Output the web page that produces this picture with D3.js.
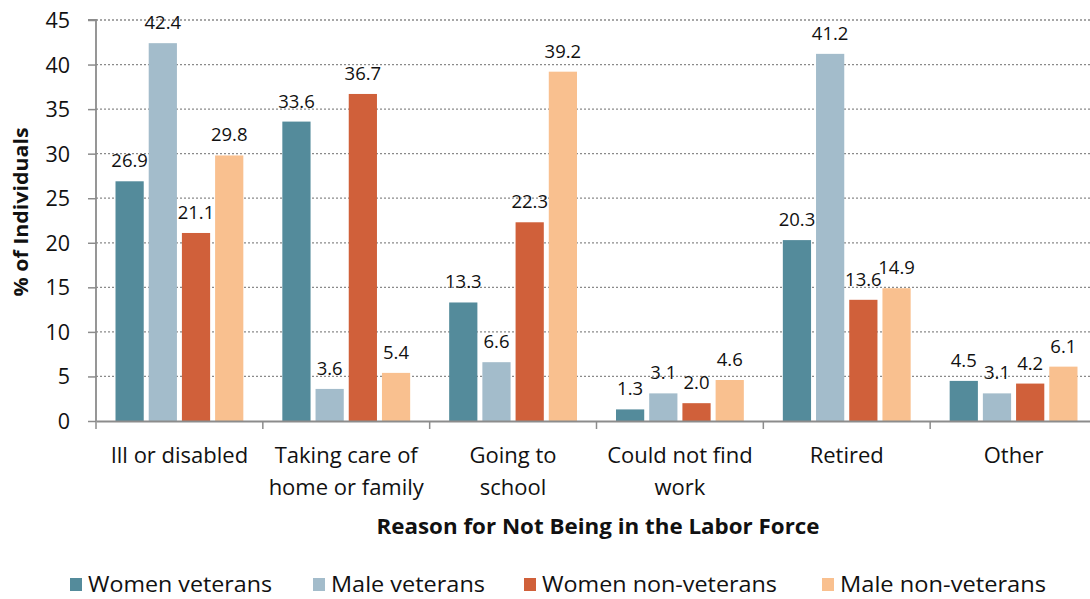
<!DOCTYPE html>
<html>
<head>
<meta charset="utf-8">
<script src="https://cdn.jsdelivr.net/npm/d3@7"></script>
<style>
  html, body { margin: 0; padding: 0; background: #fff; }
  svg { display: block; font-family: "Open Sans", "Noto Sans", sans-serif; }
</style>
</head>
<body>
<svg id="chart" width="1090" height="599"></svg>
<script>
// Reasons for not being in the labor force, % of individuals
const categories = [
  "Ill or disabled",
  "Taking care of\nhome or family",
  "Going to\nschool",
  "Could not find\nwork",
  "Retired",
  "Other"
];
const seriesNames = ["Women veterans", "Male veterans", "Women non-veterans", "Male non-veterans"];
const womenVeterans    = [26.9, 33.6, 13.3, 1.3, 20.3, 4.5];
const maleVeterans     = [42.4, 3.6, 6.6, 3.1, 41.2, 3.1];
const womenNonVeterans = [21.1, 36.7, 22.3, 2.0, 13.6, 4.2];
const maleNonVeterans  = [29.8, 5.4, 39.2, 4.6, 14.9, 6.1];
const yTicks = [0, 5, 10, 15, 20, 25, 30, 35, 40, 45];

const seriesValues = [womenVeterans, maleVeterans, womenNonVeterans, maleNonVeterans];
const colors = ["#548b9b", "#a3bccb", "#d0603a", "#f9c08f"];

const svg = d3.select("#chart");
const plot = { left: 96, right: 1097, top: 20, bottom: 421 };

const x0 = d3.scaleBand().domain(categories).range([plot.left, plot.right]).padding(0);
const x1 = d3.scaleBand().domain(seriesNames)
  .range([19.5, x0.bandwidth() - 19.5]).paddingInner(0.15).paddingOuter(0);
const y = d3.scaleLinear().domain([0, 45]).range([plot.bottom, plot.top]);

// dotted horizontal gridlines
svg.append("g")
  .selectAll("line")
  .data(yTicks.filter(t => t > 0))
  .join("line")
  .attr("x1", plot.left).attr("x2", plot.right)
  .attr("y1", d => y(d)).attr("y2", d => y(d))
  .attr("stroke", "#8a8a8a")
  .attr("stroke-width", 1.3)
  .attr("stroke-dasharray", "2,2");

// bars
const rows = categories.map((c, i) => ({
  cat: c,
  vals: seriesNames.map((s, j) => ({ series: s, value: seriesValues[j][i], color: colors[j] }))
}));

const groups = svg.append("g")
  .selectAll("g")
  .data(rows)
  .join("g")
  .attr("transform", d => `translate(${x0(d.cat)},0)`);

groups.selectAll("rect")
  .data(d => d.vals)
  .join("rect")
  .attr("x", d => x1(d.series))
  .attr("width", x1.bandwidth())
  .attr("y", d => y(d.value))
  .attr("height", d => y(0) - y(d.value))
  .attr("fill", d => d.color);

groups.selectAll("text")
  .data(d => d.vals)
  .join("text")
  .attr("x", d => x1(d.series) + x1.bandwidth() / 2)
  .attr("y", d => y(d.value) - 14)
  .attr("text-anchor", "middle")
  .attr("font-size", 18.5)
  .attr("fill", "#111")
  .text(d => d.value.toFixed(1));

// y axis
const yAxis = d3.axisLeft(y).tickValues(yTicks).tickSize(8).tickPadding(18).tickFormat(d3.format("d"));
const yg = svg.append("g").attr("transform", `translate(${plot.left},0)`).call(yAxis);
yg.select(".domain").attr("stroke", "#8c8c8c").attr("stroke-width", 1.8)
  .attr("d", `M-8,${plot.top}H0V${plot.bottom}`);
yg.selectAll(".tick line").attr("stroke", "#8c8c8c").attr("stroke-width", 1.5);
yg.selectAll(".tick text").attr("font-size", 21.5).attr("fill", "#111")
  .attr("font-family", "'Open Sans', sans-serif").attr("dy", "0.35em");

// x axis
const xAxis = d3.axisBottom(x0).tickSize(0).tickFormat(() => "");
const xg = svg.append("g").attr("transform", `translate(0,${plot.bottom})`).call(xAxis);
xg.select(".domain").attr("stroke", "#8c8c8c").attr("stroke-width", 1.8);

// category boundary ticks
svg.append("g")
  .selectAll("line")
  .data(categories.map(c => x0(c)).concat([plot.right]))
  .join("line")
  .attr("x1", d => d).attr("x2", d => d)
  .attr("y1", plot.bottom).attr("y2", plot.bottom + 8)
  .attr("stroke", "#8c8c8c").attr("stroke-width", 1.5);

// category labels
svg.append("g")
  .selectAll("text")
  .data(categories)
  .join("text")
  .attr("x", d => x0(d) + x0.bandwidth() / 2)
  .attr("y", 463)
  .attr("text-anchor", "middle")
  .attr("font-size", 22)
  .attr("fill", "#111")
  .each(function(d) {
    const t = d3.select(this);
    d.split("\n").forEach((line, i) => {
      t.append("tspan")
        .attr("x", x0(d) + x0.bandwidth() / 2)
        .attr("dy", i === 0 ? 0 : 32)
        .text(line);
    });
  });

// axis titles
svg.append("text")
  .attr("x", 598).attr("y", 534)
  .attr("text-anchor", "middle")
  .attr("font-size", 21).attr("font-weight", "bold").attr("fill", "#111")
  .attr("textLength", 443).attr("lengthAdjust", "spacingAndGlyphs")
  .text("Reason for Not Being in the Labor Force");

svg.append("text")
  .attr("transform", "translate(28,212) rotate(-90)")
  .attr("text-anchor", "middle")
  .attr("font-size", 19).attr("font-weight", "bold").attr("fill", "#111")
  .attr("textLength", 169).attr("lengthAdjust", "spacingAndGlyphs")
  .text("% of Individuals");

// legend
const legendX = [70, 313, 524, 822];
const legendTextWidth = [184, 154, 235, 206];
const legend = svg.append("g")
  .selectAll("g")
  .data(seriesNames)
  .join("g")
  .attr("transform", (d, i) => `translate(${legendX[i]},0)`);
legend.append("rect")
  .attr("x", 0).attr("y", 578).attr("width", 12).attr("height", 13)
  .attr("fill", (d, i) => colors[i]);
legend.append("text")
  .attr("x", 18).attr("y", 592)
  .attr("font-size", 22).attr("fill", "#111")
  .attr("textLength", (d, i) => legendTextWidth[i]).attr("lengthAdjust", "spacingAndGlyphs")
  .text(d => d);
</script>
</body>
</html>
